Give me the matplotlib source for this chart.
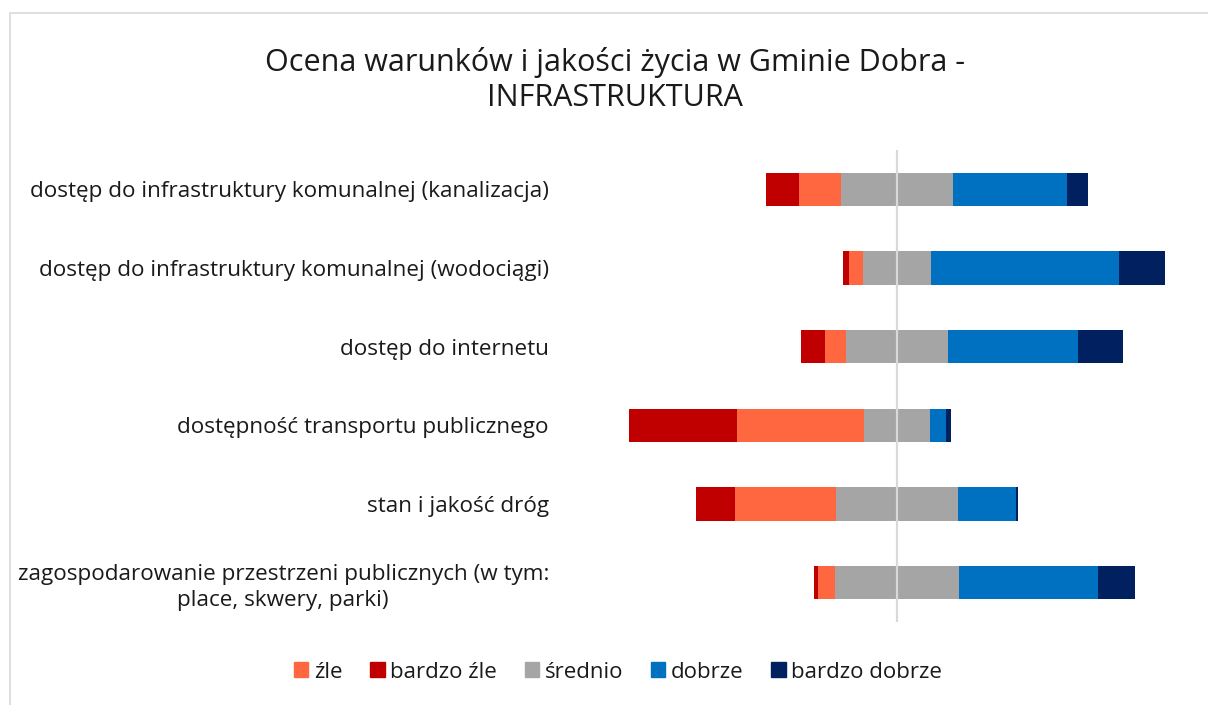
import matplotlib
matplotlib.use('Agg')
import matplotlib.pyplot as plt
from matplotlib.patches import Rectangle, Patch

plt.rcParams['font.family'] = ['Open Sans', 'DejaVu Sans']

categories = [
    "dostęp do infrastruktury komunalnej (kanalizacja)",
    "dostęp do infrastruktury komunalnej (wodociągi)",
    "dostęp do internetu",
    "dostępność transportu publicznego",
    "stan i jakość dróg",
    "zagospodarowanie przestrzeni publicznych (w tym:\nplace, skwery, parki)",
]
# percent of answers
bardzo_zle = [10.2, 2.0, 7.4, 33.5, 12.0, 1.4]
zle = [13.1, 4.3, 6.5, 39.4, 31.4, 5.1]
srednio = [34.7, 21.2, 31.7, 20.7, 38.0, 38.7]
dobrze = [35.3, 58.4, 40.5, 5.0, 18.0, 43.1]
bardzo_dobrze = [6.7, 14.1, 13.9, 1.4, 0.6, 11.6]

c_zle = '#FF6740'
c_bzle = '#C00000'
c_sred = '#A5A5A5'
c_dob = '#0070C0'
c_bdob = '#002060'
txt = '#1a1a1a'

fig = plt.figure(figsize=(12.08, 7.05), dpi=100)
ax = fig.add_axes([560/1208, 1-622/705, (1195-560)/1208, (622-150)/705])

y = list(range(len(categories)))
h = 0.42
start = [-(a + b + c/2) for a, b, c in zip(bardzo_zle, zle, srednio)]
left = start[:]
for vals, col in [(bardzo_zle, c_bzle), (zle, c_zle), (srednio, c_sred),
                  (dobrze, c_dob), (bardzo_dobrze, c_bdob)]:
    ax.barh(y, vals, left=left, height=h, color=col, zorder=2)
    left = [l + v for l, v in zip(left, vals)]

ax.axvline(0, color='#D9D9D9', lw=1.6, zorder=3)

px = 100/322.0
ax.set_xlim((560-897)*px, (1195-897)*px)
ax.set_ylim(len(categories)-0.5, -0.5)
ax.set_xticks([])
ax.set_yticks(y)
ax.set_yticklabels(categories, fontsize=16.2, color=txt, linespacing=1.3)
for t in ax.get_yticklabels():
    t.set_multialignment('center')
ax.tick_params(axis='y', length=0, pad=8)
for s in ax.spines.values():
    s.set_visible(False)

fig.text(615/1208, 1-80/705, "Ocena warunków i jakości życia w Gminie Dobra -\nINFRASTRUKTURA",
         ha='center', va='center', fontsize=22, color=txt, linespacing=1.25)

handles = [Patch(color=c) for c in [c_zle, c_bzle, c_sred, c_dob, c_bdob]]
labels = ['źle', 'bardzo źle', 'średnio', 'dobrze', 'bardzo dobrze']
fig.legend(handles, labels, loc='center', bbox_to_anchor=(618/1208, 1-672/705),
           ncol=5, frameon=False, fontsize=16, handlelength=0.65, handleheight=0.65,
           handletextpad=0.25, columnspacing=1.25, labelcolor=txt)

fig.patches.append(Rectangle((10/1208, -0.1), 1.2, (705-13)/705 + 0.1,
                             transform=fig.transFigure, fill=False,
                             edgecolor='#D9D9D9', lw=1.2))

fig.savefig('out.png', dpi=100)
